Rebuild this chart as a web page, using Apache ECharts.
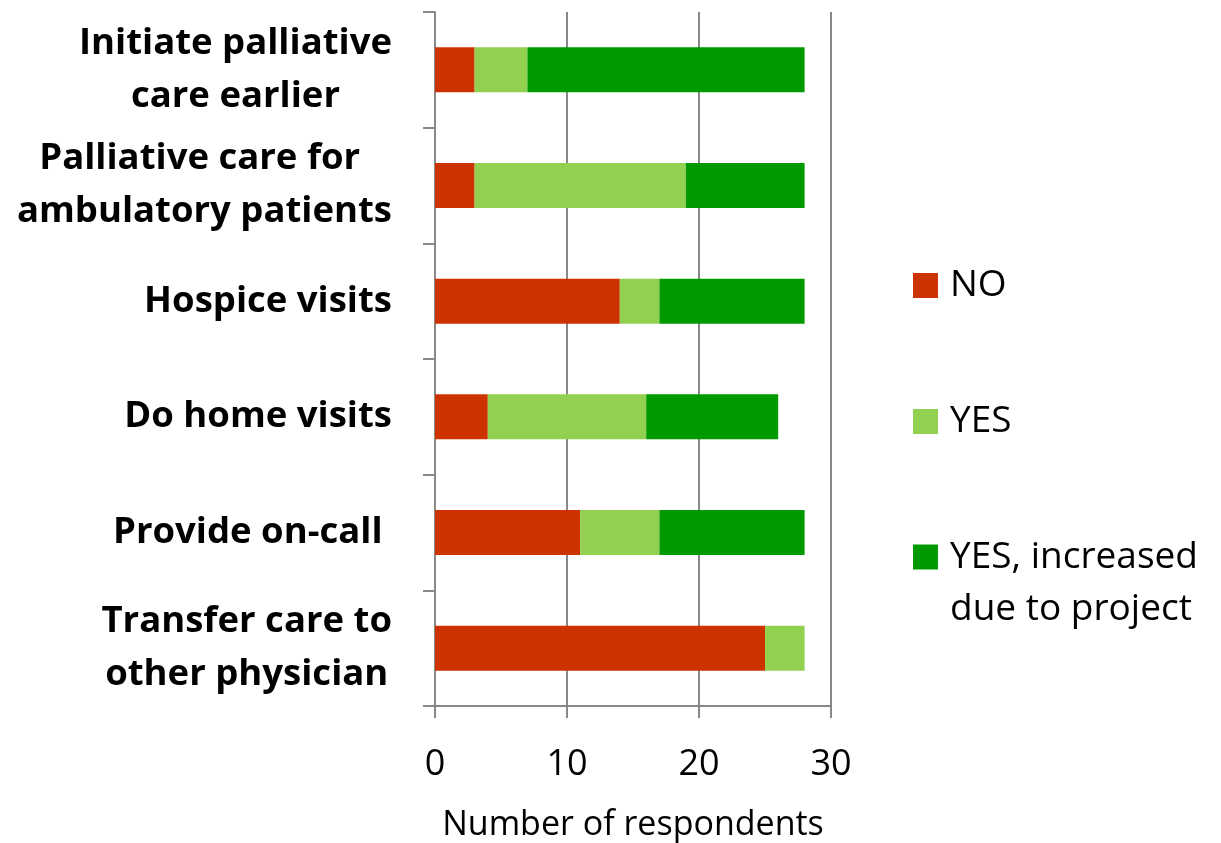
<!DOCTYPE html>
<html>
<head>
<meta charset="utf-8">
<script src="https://cdn.jsdelivr.net/npm/echarts@6/dist/echarts.min.js"></script>
<style>
  html, body { margin: 0; padding: 0; background: #fff; }
  #chart { width: 1221px; height: 843px; }
</style>
</head>
<body>
<div id="chart"></div>
<script>
// categories, top to bottom
const categories = [
  'Initiate palliative\ncare earlier',
  'Palliative care for \nambulatory patients',
  'Hospice visits',
  'Do home visits',
  'Provide on-call ',
  'Transfer care to\nother physician'
]
const noArr = [3, 3, 14, 4, 11, 25]
const yesArr = [4, 16, 3, 12, 6, 3]
const yesIncArr = [21, 9, 11, 10, 11, 0]
const xTicks = [0, 10, 20, 30]

const FONT = '"Open Sans", sans-serif'
const gray = '#888888'

const chart = echarts.init(document.getElementById('chart'))

// one legend per entry so each icon sits beside the first line of its text
function legendItem(name, top, extra) {
  return Object.assign({
    orient: 'vertical',
    left: 913,
    top: top,
    padding: 0,
    icon: 'rect',
    itemWidth: 25,
    itemHeight: 25,
    selectedMode: false,
    data: [name],
    textStyle: {
      fontFamily: FONT,
      fontSize: 37,
      color: '#000',
      padding: [0, 0, 0, 7]
    }
  }, extra || {})
}

const option = {
  animation: false,
  color: ['#cc3300', '#92d050', '#009900'],
  legend: [
    legendItem('NO', 267),
    legendItem('YES', 403),
    // blank first line keeps the icon level with "YES, increased"
    legendItem('YES, increased\ndue to project', 479, {
      formatter: name => '\n' + name,
      textStyle: {
        fontFamily: FONT,
        fontSize: 37,
        lineHeight: 52,
        color: '#000',
        padding: [0, 0, 0, 7]
      }
    })
  ],
  grid: {
    left: 435,
    right: 390,
    top: 12,
    bottom: 137,
    containLabel: false,
    outerBoundsMode: 'none'
  },
  xAxis: {
    type: 'value',
    min: 0,
    max: 30,
    interval: 10,
    axisLine: { show: true, lineStyle: { color: gray, width: 2 } },
    axisTick: { show: true, length: 12, lineStyle: { color: gray, width: 2 } },
    splitLine: { show: true, lineStyle: { color: gray, width: 2 } },
    axisLabel: {
      fontFamily: FONT,
      fontSize: 36,
      color: '#000',
      margin: 41,
      formatter: v => xTicks.includes(v) ? String(v) : ''
    },
    name: 'Number of respondents',
    nameLocation: 'middle',
    nameGap: 102,
    nameTextStyle: {
      fontFamily: FONT,
      fontSize: 34,
      color: '#000'
    }
  },
  yAxis: {
    type: 'category',
    inverse: true,
    data: categories,
    axisLine: { show: true, lineStyle: { color: gray, width: 2 } },
    axisTick: { show: true, length: 12, lineStyle: { color: gray, width: 2 } },
    splitLine: { show: false },
    axisLabel: {
      margin: 43,
      align: 'right',
      formatter: v => v.split('\n').map(s => '{c|' + s + '}').join('\n'),
      rich: {
        c: {
          align: 'center',
          fontFamily: FONT,
          fontWeight: 'bold',
          fontSize: 36.5,
          lineHeight: 53,
          color: '#000'
        }
      }
    }
  },
  series: [
    { name: 'NO', type: 'bar', stack: 'total', barWidth: 45, data: noArr },
    { name: 'YES', type: 'bar', stack: 'total', barWidth: 45, data: yesArr },
    { name: 'YES, increased\ndue to project', type: 'bar', stack: 'total', barWidth: 45, data: yesIncArr }
  ]
}

chart.setOption(option)
</script>
</body>
</html>
